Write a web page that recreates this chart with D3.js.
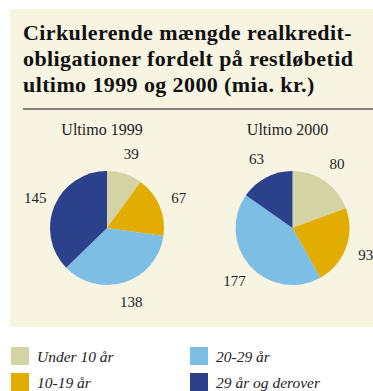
<!DOCTYPE html>
<html>
<head>
<meta charset="utf-8">
<script src="https://cdn.jsdelivr.net/npm/d3@7"></script>
<style>
  html, body { margin: 0; padding: 0; background: #ffffff; }
  svg { display: block; }
</style>
</head>
<body>
<svg id="chart" width="373" height="391"></svg>
<script>
// Maturity buckets (remaining term) and outstanding amounts, bn DKK
const categories = ["Under 10 år", "10-19 år", "20-29 år", "29 år og derover"];
const values1999 = [39, 67, 138, 145];
const values2000 = [80, 93, 177, 63];
const pieTitles = ["Ultimo 1999", "Ultimo 2000"];
const titleLines = [
  "Cirkulerende mængde realkredit-",
  "obligationer fordelt på restløbetid",
  "ultimo 1999 og 2000 (mia. kr.)"
];
const colors = ["#d4d3a3", "#e2ad00", "#7dbfe4", "#2c418b"];

const svg = d3.select("#chart");
const W = 373;
const serif = "'Liberation Serif', 'DejaVu Serif', serif";

// Panel background
svg.append("rect")
  .attr("x", 10).attr("y", 9)
  .attr("width", W - 10).attr("height", 318)
  .attr("fill", "#f7f4e1");

// Title
const title = svg.append("text")
  .attr("font-family", serif)
  .attr("font-weight", "bold")
  .attr("font-size", 22)
  .attr("letter-spacing", 0.4)
  .attr("fill", "#111");
titleLines.forEach((line, i) => {
  title.append("tspan")
    .attr("x", 23)
    .attr("y", 40 + i * 26)
    .text(line);
});

// Rule under title
svg.append("line")
  .attr("x1", 23).attr("x2", W)
  .attr("y1", 109).attr("y2", 109)
  .attr("stroke", "#111").attr("stroke-width", 1.2);

// Pies
const radius = 57;
const labelRadius = 78;
const pie = d3.pie().sort(null).value(d => d);
const arc = d3.arc().innerRadius(0).outerRadius(radius);
const labelArc = d3.arc().innerRadius(labelRadius).outerRadius(labelRadius);

const x = d3.scalePoint().domain(pieTitles).range([107, 292.5]);
const cy = 228;

[values1999, values2000].forEach((vals, k) => {
  const g = svg.append("g")
    .attr("transform", `translate(${x(pieTitles[k])},${cy})`);

  g.selectAll("path")
    .data(pie(vals))
    .join("path")
    .attr("d", arc)
    .attr("fill", (d, i) => colors[i]);

  g.selectAll("text.val")
    .data(pie(vals))
    .join("text")
    .attr("class", "val")
    .attr("transform", d => `translate(${labelArc.centroid(d)})`)
    .attr("text-anchor", "middle")
    .attr("dy", "0.35em")
    .attr("font-family", serif)
    .attr("font-size", 15)
    .attr("fill", "#222")
    .text(d => d.data);

  svg.append("text")
    .attr("x", x(pieTitles[k]) - 5)
    .attr("y", 135)
    .attr("text-anchor", "middle")
    .attr("font-family", serif)
    .attr("font-size", 16)
    .attr("fill", "#222")
    .text(pieTitles[k]);
});

// Legend: column 1 = Under 10, 10-19; column 2 = 20-29, 29+
const items = svg.append("g").selectAll("g")
  .data(categories)
  .join("g")
  .attr("transform", (d, i) => `translate(${i < 2 ? 11 : 190},${i % 2 === 0 ? 347 : 373})`);
items.append("rect")
  .attr("width", 18).attr("height", 18)
  .attr("fill", (d, i) => colors[i]);
items.append("text")
  .attr("x", 26).attr("y", 15)
  .attr("font-family", serif)
  .attr("font-style", "italic")
  .attr("font-size", 15.5)
  .attr("fill", "#222")
  .text(d => d);
</script>
</body>
</html>
